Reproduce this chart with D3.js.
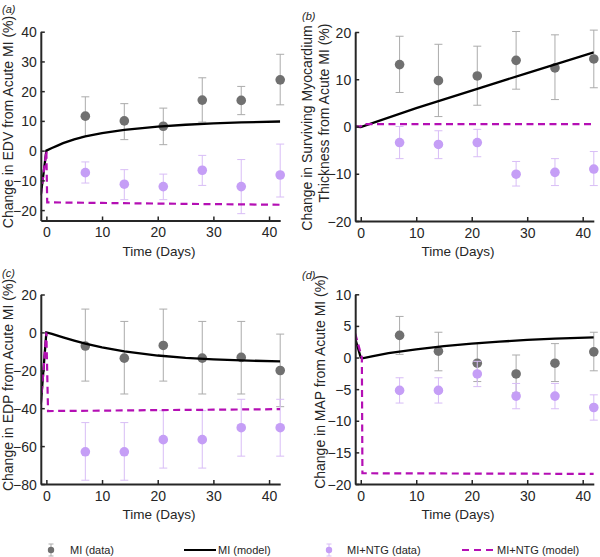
<!DOCTYPE html>
<html>
<head>
<meta charset="utf-8">
<script src="https://cdn.jsdelivr.net/npm/d3@7/dist/d3.min.js"></script>
<style>
  html, body { margin: 0; padding: 0; background: #fff; }
  svg { display: block; font-family: "Liberation Sans", Arial, sans-serif; }
</style>
</head>
<body>
<svg id="chart" width="600" height="557"></svg>
<script>
// ---------- DATA ----------
const days = [7, 14, 21, 28, 35, 42];
const xTicks = [0, 10, 20, 30, 40];

// (a) EDV
const edvMI     = [11.6, 10.0, 8.2, 17.0, 16.9, 23.8];
const edvMILo   = [4.8, 3.7, 2.0, 9.6, 12.1, 15.4];
const edvMIHi   = [18.1, 15.8, 14.3, 24.5, 21.6, 32.4];
const edvNTG    = [-7.4, -11.3, -12.1, -6.6, -12.1, -8.2];
const edvNTGLo  = [-10.9, -16.5, -16.5, -11.7, -21.2, -15.6];
const edvNTGHi  = [-3.8, -6.4, -7.9, -1.6, -3.0, 2.2];
const edvModelT    = [-1, 0, 1, 2, 3, 5, 7, 10, 14, 20, 25, 30, 35, 42];
const edvModelMI   = [-15, 0, 0.9, 1.7, 2.5, 3.8, 4.8, 5.9, 7.0, 8.1, 8.7, 9.2, 9.5, 9.8];
const edvModelNTGT = [-1, 0, 0.15, 5, 10, 20, 30, 42];
const edvModelNTG  = [-15, 0, -17.4, -17.5, -17.6, -17.8, -18.0, -18.2];
const edvYTicks = [-20, -10, 0, 10, 20, 30, 40];

// (b) Surviving myocardium thickness
const thkMI     = [13.1, 9.7, 10.7, 14.0, 12.4, 14.3];
const thkMILo   = [7.2, 2.1, 4.5, 7.9, 5.7, 8.2];
const thkMIHi   = [19.1, 17.4, 17.0, 20.1, 19.4, 20.4];
const thkNTG    = [-3.4, -3.8, -3.4, -10.1, -9.7, -9.0];
const thkNTGLo  = [-6.8, -6.8, -6.4, -12.6, -12.5, -12.5];
const thkNTGHi  = [0.0, -0.9, -0.6, -7.4, -6.8, -5.3];
const thkModelT    = [-1, 0, 10, 20, 30, 42];
const thkModelMI   = [0, -0.1, 3.9, 7.6, 11.3, 15.7];
const thkModelNTGT = [-1, 0, 0.3, 42];
const thkModelNTG  = [0, 0, 0.5, 0.5];
const thkYTicks = [-20, -10, 0, 10, 20];

// (c) EDP
const edpMI     = [-7.2, -13.6, -6.9, -13.6, -13.2, -20.1];
const edpMILo   = [-25.7, -32.5, -25.7, -32.5, -32.5, -39.2];
const edpMIHi   = [12.3, 5.8, 12.3, 5.8, 5.8, -0.9];
const edpNTG    = [-63.0, -63.0, -56.6, -56.6, -50.3, -50.3];
const edpNTGLo  = [-78.0, -78.0, -71.6, -71.6, -65.3, -65.3];
const edpNTGHi  = [-47.6, -47.6, -41.3, -41.3, -35.3, -35.3];
const edpModelT    = [-1, 0, 1, 3, 5, 7, 10, 14, 20, 25, 30, 35, 42];
const edpModelMI   = [-38, 0, -0.8, -2.6, -4.3, -5.9, -7.9, -10.0, -12.2, -13.4, -14.2, -14.8, -15.3];
const edpModelNTGT = [-1, 0, 0.3, 10, 20, 30, 42];
const edpModelNTG  = [-38, 0, -41.5, -41.3, -41.0, -40.8, -40.5];
const edpYTicks = [-80, -60, -40, -20, 0, 20];

// (d) MAP
const mapMI     = [3.5, 1.0, -0.9, -2.6, -0.9, 0.9];
const mapMILo   = [0.5, -2.1, -3.8, -5.6, -3.8, -2.1];
const mapMIHi   = [6.5, 4.0, 2.2, 0.4, 2.2, 4.0];
const mapNTG    = [-5.2, -5.2, -2.6, -6.1, -6.1, -7.9];
const mapNTGLo  = [-7.2, -7.2, -4.6, -8.1, -8.1, -9.9];
const mapNTGHi  = [-3.2, -3.2, -0.6, -4.1, -4.1, -5.9];
const mapModelT    = [-1, 0, 0.5, 2, 5, 10, 15, 20, 25, 30, 35, 42];
const mapModelMI   = [3.0, 0, -0.1, 0.2, 0.7, 1.3, 1.8, 2.2, 2.5, 2.8, 3.0, 3.2];
const mapModelNTGT = [-1, 0.2, 0.3, 42];
const mapModelNTG  = [3.8, 0, -18.3, -18.4];
const mapYTicks = [-20, -15, -10, -5, 0, 5, 10];

const legendLabels = ["MI (data)", "MI (model)", "MI+NTG (data)", "MI+NTG (model)"];

// ---------- STYLE ----------
const colMI = "#707070", colMIErr = "#ababab";
const colNTG = "#c59ef6", colNTGErr = "#d8bdf6";
const colModel = "#000000", colModelNTG = "#b40fb4";
const axisCol = "#262626";

const svg = d3.select("#chart");

const panels = [
  { tag: "(a)", tagX: 2, tagY: 13, xr: [40.8, 280.2], yr: [220.5, 31.7], yDom: [-23.5, 40], yTicks: edvYTicks,
    mi: edvMI, miLo: edvMILo, miHi: edvMIHi, ntg: edvNTG, ntgLo: edvNTGLo, ntgHi: edvNTGHi,
    mT: edvModelT, mMI: edvModelMI, nT: edvModelNTGT, mNTG: edvModelNTG,
    ylabel: ["Change in EDV from Acute MI (%)"], ylx: [12.5], yly: [122], xlx: 159, xly: 256 },
  { tag: "(b)", tagX: 302, tagY: 20, xr: [355.2, 593.8], yr: [221, 32], yDom: [-20, 20], yTicks: thkYTicks,
    mi: thkMI, miLo: thkMILo, miHi: thkMIHi, ntg: thkNTG, ntgLo: thkNTGLo, ntgHi: thkNTGHi,
    mT: thkModelT, mMI: thkModelMI, nT: thkModelNTGT, mNTG: thkModelNTG,
    ylabel: ["Change in Surviving Myocardium", "Thickness from Acute MI (%)"], ylx: [311.5, 329], yly: [128, 113], xlx: 458, xly: 256 },
  { tag: "(c)", tagX: 2, tagY: 277, xr: [40.8, 280.2], yr: [484, 294.5], yDom: [-80, 20], yTicks: edpYTicks,
    mi: edpMI, miLo: edpMILo, miHi: edpMIHi, ntg: edpNTG, ntgLo: edpNTGLo, ntgHi: edpNTGHi,
    mT: edpModelT, mMI: edpModelMI, nT: edpModelNTGT, mNTG: edpModelNTG,
    ylabel: ["Change in EDP from Acute MI (%)"], ylx: [12.5], yly: [385], xlx: 159, xly: 519 },
  { tag: "(d)", tagX: 302, tagY: 279, xr: [355.2, 593.8], yr: [484, 294.3], yDom: [-20, 10], yTicks: mapYTicks,
    mi: mapMI, miLo: mapMILo, miHi: mapMIHi, ntg: mapNTG, ntgLo: mapNTGLo, ntgHi: mapNTGHi,
    mT: mapModelT, mMI: mapModelMI, nT: mapModelNTGT, mNTG: mapModelNTG,
    ylabel: ["Change in MAP from Acute MI (%)"], ylx: [325], yly: [382], xlx: 458, xly: 519 }
];

const capHalf = 4, markerR = 4.8;

panels.forEach((p, i) => {
  const x = d3.scaleLinear().domain([-1, 42]).range(p.xr);
  const y = d3.scaleLinear().domain(p.yDom).range(p.yr);
  const g = svg.append("g");

  const clipId = "clip" + i;
  svg.append("clipPath").attr("id", clipId).append("rect")
    .attr("x", p.xr[0]).attr("y", p.yr[1])
    .attr("width", p.xr[1] - p.xr[0]).attr("height", p.yr[0] - p.yr[1]);

  function drawSeries(vals, lo, hi, col, colErr) {
    const s = g.append("g");
    days.forEach((d, k) => {
      const cx = x(d);
      s.append("line").attr("x1", cx).attr("x2", cx).attr("y1", y(lo[k])).attr("y2", y(hi[k]))
        .attr("stroke", colErr).attr("stroke-width", 1);
      [lo[k], hi[k]].forEach(v => {
        s.append("line").attr("x1", cx - capHalf).attr("x2", cx + capHalf).attr("y1", y(v)).attr("y2", y(v))
          .attr("stroke", colErr).attr("stroke-width", 1);
      });
    });
    s.selectAll("circle").data(vals).join("circle")
      .attr("cx", (v, k) => x(days[k])).attr("cy", v => y(v)).attr("r", markerR).attr("fill", col);
  }
  drawSeries(p.mi, p.miLo, p.miHi, colMI, colMIErr);
  drawSeries(p.ntg, p.ntgLo, p.ntgHi, colNTG, colNTGErr);

  const line = d3.line().x(d => x(d[0])).y(d => y(d[1]));
  g.append("path").datum(p.mT.map((t, k) => [t, p.mMI[k]]))
    .attr("d", line).attr("fill", "none").attr("stroke", colModel).attr("stroke-width", 2.3)
    .attr("clip-path", `url(#${clipId})`);
  g.append("path").datum(p.nT.map((t, k) => [t, p.mNTG[k]]))
    .attr("d", line).attr("fill", "none").attr("stroke", colModelNTG).attr("stroke-width", 2.2)
    .attr("stroke-dasharray", "7,4.5").attr("clip-path", `url(#${clipId})`);

  const xa = g.append("g").attr("transform", `translate(0,${p.yr[0]})`)
    .call(d3.axisBottom(x).tickValues(xTicks).tickSizeInner(-4).tickSizeOuter(0).tickPadding(7));
  const ya = g.append("g").attr("transform", `translate(${p.xr[0]},0)`)
    .call(d3.axisLeft(y).tickValues(p.yTicks).tickSizeInner(-4).tickSizeOuter(0).tickPadding(4));
  [xa, ya].forEach(a => {
    a.select(".domain").attr("stroke", axisCol).attr("stroke-width", 2);
    a.selectAll(".tick line").attr("stroke", axisCol).attr("stroke-width", 1.5);
    a.selectAll(".tick text").attr("fill", axisCol).attr("font-size", 14)
      .attr("font-family", '"Liberation Sans", Arial, sans-serif');
  });
  ya.selectAll(".tick text").attr("dy", "0.36em");

  svg.append("text").attr("x", p.xlx).attr("y", p.xly).attr("text-anchor", "middle")
    .attr("font-size", 13.5).attr("fill", axisCol).text("Time (Days)");
  p.ylabel.forEach((t, k) => {
    svg.append("text").attr("transform", `translate(${p.ylx[k]},${p.yly[k]}) rotate(-90)`)
      .attr("text-anchor", "middle").attr("font-size", 14).attr("fill", axisCol).text(t);
  });
  svg.append("text").attr("x", p.tagX).attr("y", p.tagY).attr("font-size", 11)
    .attr("font-style", "italic").attr("fill", axisCol).text(p.tag);
});

// ---------- LEGEND ----------
const ly = 550;
const lg = svg.append("g");
function legMarker(cx, col, colErr) {
  lg.append("line").attr("x1", cx).attr("x2", cx).attr("y1", ly - 6).attr("y2", ly + 6).attr("stroke", colErr);
  [ly - 6, ly + 6].forEach(v => lg.append("line").attr("x1", cx - 2.5).attr("x2", cx + 2.5).attr("y1", v).attr("y2", v).attr("stroke", colErr));
  lg.append("circle").attr("cx", cx).attr("cy", ly).attr("r", 3.2).attr("fill", col);
}
legMarker(51, colMI, colMIErr);
lg.append("line").attr("x1", 184).attr("x2", 216).attr("y1", ly).attr("y2", ly).attr("stroke", colModel).attr("stroke-width", 2);
legMarker(329, colNTG, colNTGErr);
lg.append("line").attr("x1", 462).attr("x2", 496).attr("y1", ly).attr("y2", ly).attr("stroke", colModelNTG)
  .attr("stroke-width", 2).attr("stroke-dasharray", "7,5");
const legX = [70, 218, 347, 497];
legendLabels.forEach((t, k) => {
  lg.append("text").attr("x", legX[k]).attr("y", ly + 4).attr("font-size", 11).attr("fill", axisCol).text(t);
});
</script>
</body>
</html>
